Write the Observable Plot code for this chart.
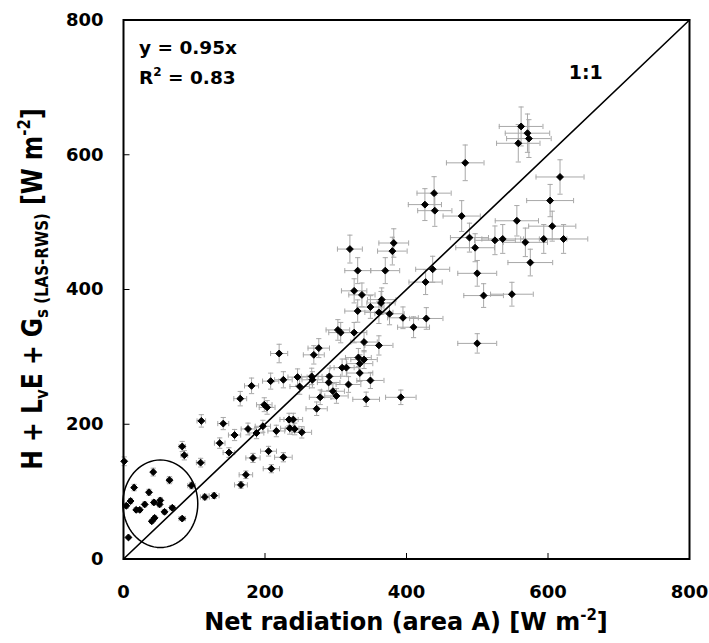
<!DOCTYPE html>
<html><head><meta charset="utf-8">
<script src="https://cdn.jsdelivr.net/npm/d3@7"></script>
<script src="https://cdn.jsdelivr.net/npm/@observablehq/plot@0.6"></script>
<style>
body{margin:0;background:#fff}
#chart{width:709px;height:643px}
</style>
</head><body><div id="chart"></div>
<script>
// Net radiation (area A) [W m-2]
const netRadiation = [1,83,86,136,149,157,109,42,65,15,36,96,115,128,10,4,30,43,52,51,18,23,69,58,44,40,83,7,
  181,165,208,226,199,203,249,273,110,141,176,188,197,216,234,240,235,242,252,205,226,183,209,173,166,
  320,331,326,337,331,349,361,303,307,326,340,361,276,269,220,332,340,334,309,315,334,349,246,266,267,291,290,318,296,301,278,343,
  439,426,440,478,382,380,489,497,525,370,437,427,500,509,365,364,376,395,428,410,
  562,571,558,573,483,617,603,556,606,536,568,594,622,575,549,500,392];
// H + LvE + Gs (LAS-RWS) [W m-2]
const fluxSum = [145,167,154,172,158,184,143,129,117,106,99,109,92,94,86,79,81,84,87,81,73,73,76,70,61,56,60,32,
  257,238,264,266,229,225,256,223,205,201,193,187,197,190,207,207,194,193,188,160,151,150,134,125,110,
  460,428,398,392,368,374,366,340,336,336,322,317,313,303,305,299,296,290,284,284,276,265,270,271,266,271,262,259,249,242,240,237,
  543,526,517,509,469,457,477,462,473,428,430,411,424,391,385,380,364,358,357,344,
  642,632,617,624,588,567,532,502,494,475,470,475,475,440,393,320,240];
const relErrX = 0.055;   // relative uncertainty of net radiation
const relErrY = 0.045;   // relative uncertainty of flux sum
const xTicks = [0, 200, 400, 600, 800];
const yTicks = [0, 200, 400, 600, 800];
const innerTicks = [200, 400, 600];
const oneToOne = [0, 800];
const circled = {cx: 52, cy: 82, rx: 53, ry: 65};
const fitText = "y = 0.95x";
const r2Text = "0.83";

const data = netRadiation.map((x, i) => ({x, y: fluxSum[i]}));
const ellipsePts = d3.range(0, 361, 5).map(a => ({
  x: circled.cx + circled.rx * Math.cos(a * Math.PI / 180),
  y: circled.cy + circled.ry * Math.sin(a * Math.PI / 180)
}));

const capV = {draw(ctx){ ctx.moveTo(0, -2.6); ctx.lineTo(0, 2.6); }};
const capH = {draw(ctx){ ctx.moveTo(-2.6, 0); ctx.lineTo(2.6, 0); }};
const tickUp = {draw(ctx){ ctx.moveTo(0, 0); ctx.lineTo(0, -6); }};
const tickRight = {draw(ctx){ ctx.moveTo(0, 0); ctx.lineTo(6, 0); }};
const errColor = "#a8a8a8";

const plot = Plot.plot({
  width: 709, height: 643,
  marginLeft: 123, marginRight: 20, marginTop: 19.5, marginBottom: 84.5,
  x: {domain: [0, 800]},
  y: {domain: [0, 800]},
  style: {fontFamily: "DejaVu Sans", fontWeight: "bold", fontSize: "18px", color: "black", background: "white"},
  marks: [
    Plot.axisX(xTicks, {tickSize: 0, tickPadding: 26, label: null, fontSize: 18}),
    Plot.axisY(yTicks, {tickSize: 0, tickPadding: 20, label: null, fontSize: 18}),
    Plot.dot(innerTicks, {x: d => d, y: 0, symbol: tickUp, stroke: "black", strokeWidth: 1, r: 1}),
    Plot.dot(innerTicks, {x: 0, y: d => d, symbol: tickRight, stroke: "black", strokeWidth: 1, r: 1}),
    // horizontal error bars
    Plot.ruleY(data, {y: "y", x1: d => d.x * (1 - relErrX), x2: d => d.x * (1 + relErrX), stroke: errColor, strokeWidth: 1}),
    Plot.dot(data, {x: d => d.x * (1 - relErrX), y: "y", symbol: capV, stroke: errColor, strokeWidth: 1, r: 1}),
    Plot.dot(data, {x: d => d.x * (1 + relErrX), y: "y", symbol: capV, stroke: errColor, strokeWidth: 1, r: 1}),
    // vertical error bars
    Plot.ruleX(data, {x: "x", y1: d => d.y * (1 - relErrY), y2: d => d.y * (1 + relErrY), stroke: errColor, strokeWidth: 1}),
    Plot.dot(data, {x: "x", y: d => d.y * (1 - relErrY), symbol: capH, stroke: errColor, strokeWidth: 1, r: 1}),
    Plot.dot(data, {x: "x", y: d => d.y * (1 + relErrY), symbol: capH, stroke: errColor, strokeWidth: 1, r: 1}),
    // 1:1 line
    Plot.line(oneToOne.map(v => ({x: v, y: v})), {x: "x", y: "y", stroke: "black", strokeWidth: 1.6}),
    // ellipse
    Plot.line(ellipsePts, {x: "x", y: "y", stroke: "black", strokeWidth: 1.5, curve: "linear-closed"}),
    // points
    Plot.dot(data, {x: "x", y: "y", symbol: "diamond2", fill: "black", stroke: "black", strokeWidth: 1, r: 3.1}),
    Plot.frame({stroke: "black", strokeWidth: 2})
  ]
});
document.getElementById("chart").appendChild(plot);

const svg = d3.select(plot);
const sx = plot.scale("x"), sy = plot.scale("y");
function addText(attrs, parts) {
  const t = svg.append("text").attr("font-family", "DejaVu Sans").attr("font-weight", "bold")
    .attr("fill", "black").attr("text-anchor", "start");
  for (const k in attrs) t.attr(k, attrs[k]);
  for (const p of parts) {
    const s = t.append("tspan").text(p.t).attr("font-size", p.s);
    if (p.dy) s.attr("dy", p.dy);
  }
  return t;
}
// fit annotation
addText({x: 139, y: 53.5}, [{t: fitText, s: 18.5}]);
addText({x: 139, y: 84}, [{t: "R", s: 18.5}, {t: "2", s: 12, dy: -8}, {t: " = " + r2Text, s: 18.5, dy: 8}]);
addText({x: sx.apply(654), y: sy.apply(722) + 7, "text-anchor": "middle"}, [{t: "1:1", s: 19}]);
// x title
addText({x: 406, y: 630, "text-anchor": "middle"}, [
  {t: "Net radiation (area A) [W m", s: 24}, {t: "-2", s: 15, dy: -10}, {t: "]", s: 24, dy: 10}
]);
// y title
addText({transform: "translate(41.5,289) rotate(-90) scale(1,1.2)", "text-anchor": "middle"}, [
  {t: "H + L", s: 23.5}, {t: "v", s: 15, dy: 5}, {t: "E + G", s: 23.5, dy: -5},
  {t: "s", s: 15, dy: 5}, {t: " (LAS-RWS)", s: 15}, {t: " [W m", s: 23.5, dy: -5},
  {t: "-2", s: 15, dy: -10}, {t: "]", s: 23.5, dy: 10}
]);
</script>
</body></html>
